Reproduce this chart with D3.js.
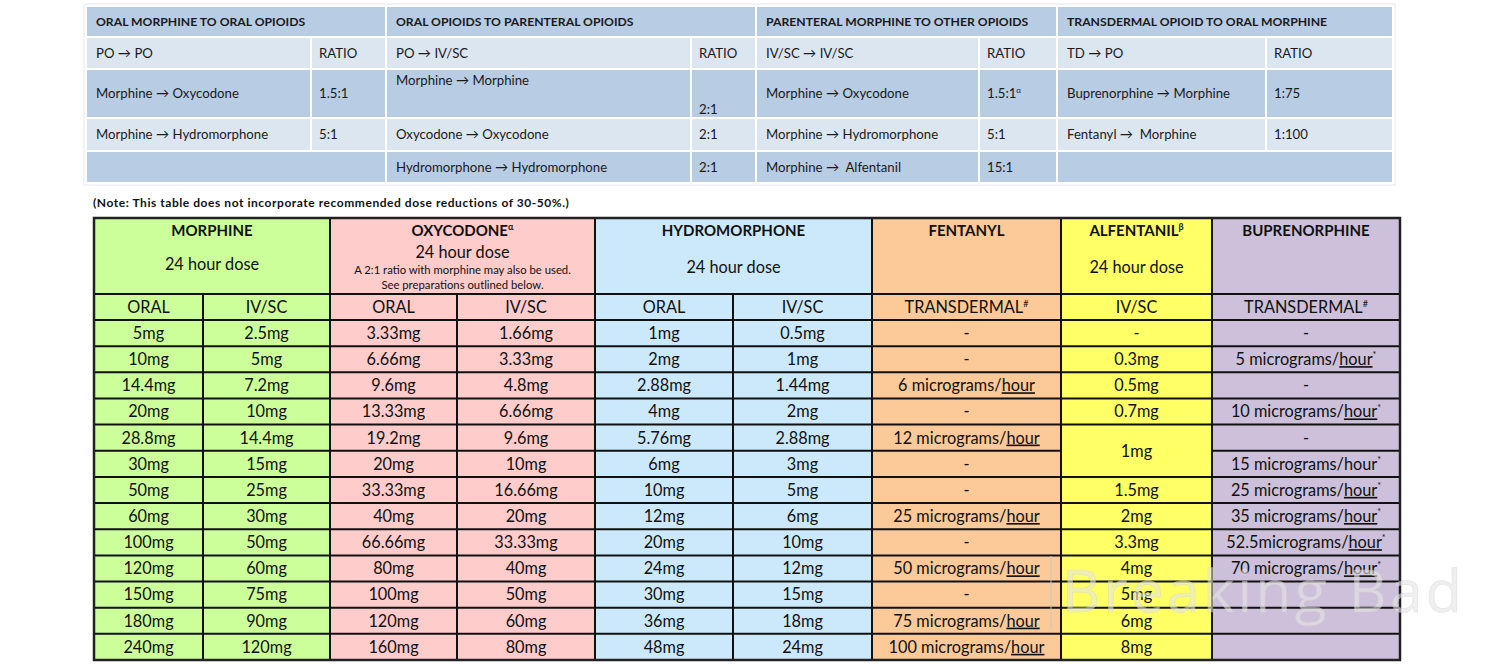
<!DOCTYPE html>
<html><head><meta charset="utf-8">
<script src="https://cdn.jsdelivr.net/npm/d3@7"></script>
<style>
html,body{margin:0;padding:0;background:#fff;}
svg{display:block;font-family:Lato,"Open Sans",sans-serif;}
svg text{white-space:pre;}
</style></head>
<body><svg id="c" width="1497" height="668"></svg>
<script>
// ---------- DATA ----------
const topGroupTitles = ["ORAL MORPHINE TO ORAL OPIOIDS","ORAL OPIOIDS TO PARENTERAL OPIOIDS","PARENTERAL MORPHINE TO OTHER OPIOIDS","TRANSDERMAL OPIOID TO ORAL MORPHINE"];
const topRoutes = ["PO → PO","PO → IV/SC","IV/SC → IV/SC","TD → PO"];
const topConversions = [
  ["Morphine → Oxycodone","Morphine → Hydromorphone",""],
  ["Morphine → Morphine","Oxycodone → Oxycodone","Hydromorphone → Hydromorphone"],
  ["Morphine → Oxycodone","Morphine → Hydromorphone","Morphine →  Alfentanil"],
  ["Buprenorphine → Morphine","Fentanyl →  Morphine",""]
];
const topRatios = [
  ["1.5:1","5:1",""],
  ["2:1","2:1","2:1"],
  ["1.5:1α","5:1","15:1"],
  ["1:75","1:100",""]
];
const noteText = "(Note: This table does not incorporate recommended dose reductions of 30-50%.)";

const drugNames = ["MORPHINE","OXYCODONE","HYDROMORPHONE","FENTANYL","ALFENTANIL","BUPRENORPHINE"];
const drugMarks = ["","α","","","β",""];
const drugSubtitles = ["24 hour dose","24 hour dose","24 hour dose","","24 hour dose",""];
const oxyNotes = ["A 2:1 ratio with morphine may also be used.","See preparations outlined below."];
const routeLabels = ["ORAL","IV/SC","ORAL","IV/SC","ORAL","IV/SC","TRANSDERMAL","IV/SC","TRANSDERMAL"];
const routeMarks = ["","","","","","","#","","#"];

const morphineOral = ["5mg","10mg","14.4mg","20mg","28.8mg","30mg","50mg","60mg","100mg","120mg","150mg","180mg","240mg"];
const morphineIV = ["2.5mg","5mg","7.2mg","10mg","14.4mg","15mg","25mg","30mg","50mg","60mg","75mg","90mg","120mg"];
const oxycodoneOral = ["3.33mg","6.66mg","9.6mg","13.33mg","19.2mg","20mg","33.33mg","40mg","66.66mg","80mg","100mg","120mg","160mg"];
const oxycodoneIV = ["1.66mg","3.33mg","4.8mg","6.66mg","9.6mg","10mg","16.66mg","20mg","33.33mg","40mg","50mg","60mg","80mg"];
const hydromorphoneOral = ["1mg","2mg","2.88mg","4mg","5.76mg","6mg","10mg","12mg","20mg","24mg","30mg","36mg","48mg"];
const hydromorphoneIV = ["0.5mg","1mg","1.44mg","2mg","2.88mg","3mg","5mg","6mg","10mg","12mg","15mg","18mg","24mg"];
const fentanylTD = ["-","-","6 micrograms/hour","-","12 micrograms/hour","-","-","25 micrograms/hour","-","50 micrograms/hour","-","75 micrograms/hour","100 micrograms/hour"];
const alfentanilIV = ["-","0.3mg","0.5mg","0.7mg","1mg",null,"1.5mg","2mg","3.3mg","4mg","5mg","6mg","8mg"]; // null = merged with row above
const buprenorphineTD = ["-","5 micrograms/hour*","-","10 micrograms/hour*","-","15 micrograms/hour*","25 micrograms/hour*","35 micrograms/hour*","52.5micrograms/hour*","70 micrograms/hour*","","",""];
const buprenorphinePlainHour = [5]; // rows where "hour" is not underlined

const columns = [morphineOral,morphineIV,oxycodoneOral,oxycodoneIV,hydromorphoneOral,hydromorphoneIV,fentanylTD,alfentanilIV,buprenorphineTD];
const drugColumnIndex = [[0,1],[2,3],[4,5],[6],[7],[8]];

// ---------- LAYOUT / STYLE ----------
const drugColors = ["#ccff99","#ffcccc","#cce9fb","#fcc998","#ffff66","#ccc0da"];
const colEdges = [94,203,330,457,595,733,872,1061,1212,1400];
const topEdges = [86,386,756,1057,1393];
const topSplit = [311,691,979,1266];
const topRowEdges = [6,37,69,118,151,183];
const topRowColors = ["#b8cce4","#dce6f1","#b8cce4","#dce6f1","#b8cce4"];
const MAIN_FS = 16.3;

const svg = d3.select("#c");

// ---------- TOP TABLE ----------
const topG = svg.append("g");
topG.append("rect").attr("x",84).attr("y",4).attr("width",1311).attr("height",181).attr("fill","#fff").attr("stroke","#e4e8ee");
const yTop = i => topRowEdges[i];
topGroupTitles.forEach((title,g)=>{
  const x0 = topEdges[g], x1 = topEdges[g+1], xs = topSplit[g];
  topG.append("rect").attr("x",x0+1).attr("y",yTop(0)+1).attr("width",x1-x0-2).attr("height",yTop(1)-yTop(0)-2).attr("fill",topRowColors[0]);
  topG.append("text").attr("x",x0+10).attr("y",(yTop(0)+yTop(1))/2).attr("dy","0.36em")
    .attr("font-size",12.2).attr("font-weight","bold").attr("fill","#1a1a1a").text(title);
  const rows = [[topRoutes[g],"RATIO"]].concat(topConversions[g].map((c,i)=>[c,topRatios[g][i]]));
  rows.forEach((r,ri)=>{
    const rr = ri+1;
    const ya = yTop(rr), yb = yTop(rr+1);
    const merged = (r[0]===""&&r[1]==="");
    if(merged){
      topG.append("rect").attr("x",x0+1).attr("y",ya+1).attr("width",x1-x0-2).attr("height",yb-ya-2).attr("fill",topRowColors[rr]);
      return;
    }
    topG.append("rect").attr("x",x0+1).attr("y",ya+1).attr("width",xs-x0-2).attr("height",yb-ya-2).attr("fill",topRowColors[rr]);
    topG.append("rect").attr("x",xs+1).attr("y",ya+1).attr("width",x1-xs-2).attr("height",yb-ya-2).attr("fill",topRowColors[rr]);
    const special = (g===1 && rr===2);
    const ly = special ? ya+11 : (ya+yb)/2;
    const ry = special ? yb-9 : (ya+yb)/2;
    topG.append("text").attr("x",x0+10).attr("y",ly).attr("dy","0.36em").attr("font-size",13.2).attr("fill","#1a1a1a").text(r[0]);
    const t = topG.append("text").attr("x",xs+8).attr("y",ry).attr("dy","0.36em").attr("font-size",13.2).attr("fill","#1a1a1a");
    if(r[1].endsWith("α")){
      t.append("tspan").text(r[1].slice(0,-1));
      t.append("tspan").attr("font-size",8).attr("dy","-0.6em").text("α");
    } else t.text(r[1]);
  });
});

// ---------- NOTE ----------
svg.append("text").attr("x",93).attr("y",207).attr("font-size",12).attr("font-weight","bold").attr("fill","#111").attr("letter-spacing","0.55").text(noteText);

// ---------- MAIN TABLE ----------
const T0 = 218, H1 = 294, H2 = 320, B = 660;
const y = d3.scaleBand().domain(d3.range(morphineOral.length)).range([H2,B]).paddingInner(0);
const colX = i => colEdges[i], colW = i => colEdges[i+1]-colEdges[i];
const main = svg.append("g");

drugNames.forEach((d,di)=>{
  const cols = drugColumnIndex[di];
  const x0 = colX(cols[0]), x1 = colEdges[cols[cols.length-1]+1];
  main.append("rect").attr("x",x0).attr("y",T0).attr("width",x1-x0).attr("height",B-T0).attr("fill",drugColors[di]);
  const cx = (x0+x1)/2;
  const tt = main.append("text").attr("x",cx).attr("y",231).attr("dy","0.36em").attr("text-anchor","middle")
    .attr("font-size",15).attr("font-weight","bold").attr("fill","#111");
  tt.append("tspan").text(d);
  if(drugMarks[di]) tt.append("tspan").attr("font-size",9).attr("dy","-0.7em").text(drugMarks[di]);
  if(drugSubtitles[di]){
    const sy = di===1 ? 252 : (di===0 ? 264 : 267);
    main.append("text").attr("x",cx).attr("y",sy).attr("dy","0.36em").attr("text-anchor","middle")
      .attr("font-size",MAIN_FS).attr("fill","#111").text(drugSubtitles[di]);
  }
  if(di===1){
    oxyNotes.forEach((n,k)=>{
      main.append("text").attr("x",cx).attr("y",270+k*15).attr("dy","0.36em").attr("text-anchor","middle")
        .attr("font-size",11.3).attr("fill","#111").text(n);
    });
  }
});

routeLabels.forEach((lab,i)=>{
  const t = main.append("text").attr("x",colX(i)+colW(i)/2).attr("y",(H1+H2)/2).attr("dy","0.36em")
    .attr("text-anchor","middle").attr("font-size",MAIN_FS).attr("fill","#111");
  t.append("tspan").text(lab);
  if(routeMarks[i]) t.append("tspan").attr("font-size",9).attr("dy","-0.7em").text(routeMarks[i]);
});

function cellText(ci, ri, val){
  let span = 1;
  let k = ri+1;
  while(k<columns[ci].length && columns[ci][k]===null){span++;k++;}
  const cy = y(ri) + y.bandwidth()*span/2;
  const t = main.append("text").attr("x",colX(ci)+colW(ci)/2).attr("y",cy).attr("dy","0.36em")
    .attr("text-anchor","middle").attr("font-size",MAIN_FS).attr("fill","#111");
  let v = val, star = false;
  if(v.endsWith("*")){star=true; v=v.slice(0,-1);}
  if(v.endsWith("hour")){
    t.append("tspan").text(v.slice(0,-4));
    const plain = (ci===8 && buprenorphinePlainHour.includes(ri));
    t.append("tspan").attr("text-decoration", plain ? "none" : "underline").text("hour");
  } else t.append("tspan").text(v);
  if(star) t.append("tspan").attr("font-size",9).attr("dy","-0.75em").text("*");
}
columns.forEach((col,ci)=>{
  col.forEach((v,ri)=>{ if(v!==null && v!=="") cellText(ci,ri,v); });
});

const LC = "#111", LW = 2;
[H1,H2].forEach(yy=>main.append("line").attr("x1",colEdges[0]).attr("x2",colEdges[9]).attr("y1",yy).attr("y2",yy).attr("stroke",LC).attr("stroke-width",LW));
d3.range(1,morphineOral.length).forEach(ri=>{
  const yy = y(ri);
  columns.forEach((col,ci)=>{
    if(col[ri]===null) return;
    main.append("line").attr("x1",colX(ci)).attr("x2",colEdges[ci+1]).attr("y1",yy).attr("y2",yy).attr("stroke",LC).attr("stroke-width",LW);
  });
});
[330,595,872,1061,1212].forEach(xx=>main.append("line").attr("x1",xx).attr("x2",xx).attr("y1",T0).attr("y2",B).attr("stroke",LC).attr("stroke-width",LW));
[203,457,733].forEach(xx=>main.append("line").attr("x1",xx).attr("x2",xx).attr("y1",H1).attr("y2",B).attr("stroke",LC).attr("stroke-width",LW));
main.append("rect").attr("x",colEdges[0]).attr("y",T0).attr("width",colEdges[9]-colEdges[0]).attr("height",B-T0)
  .attr("fill","none").attr("stroke","#222").attr("stroke-width",2.5);

// watermark
const wm = svg.append("g").attr("opacity",0.6);
wm.append("line").attr("x1",1051).attr("x2",1051).attr("y1",556).attr("y2",630).attr("stroke","#c8c8c8").attr("stroke-width",1.5);
wm.append("text").attr("x",1062).attr("y",612).attr("font-size",59).attr("font-family","'Open Sans',sans-serif")
  .attr("letter-spacing","3.2").attr("fill","#e6e6e6").attr("stroke","#d2d2d2").attr("stroke-width",0.6).text("Breaking Bad");
</script></body></html>
